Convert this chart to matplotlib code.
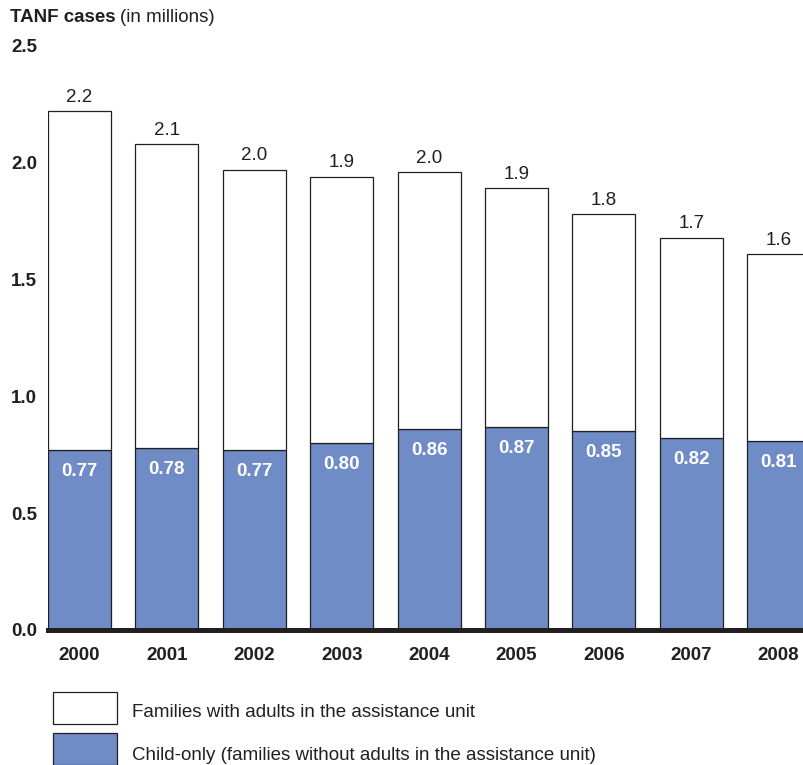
"""Stacked bar chart of TANF caseload, 2000-2008."""

import matplotlib

matplotlib.use("Agg")
import matplotlib.pyplot as plt
from matplotlib.patches import Rectangle

plt.rcParams["font.family"] = ["Liberation Sans", "DejaVu Sans"]

years = ["2000", "2001", "2002", "2003", "2004", "2005", "2006", "2007", "2008"]
total_cases = [2.22, 2.08, 1.97, 1.94, 1.96, 1.89, 1.78, 1.68, 1.61]
child_only = [0.77, 0.78, 0.77, 0.80, 0.86, 0.87, 0.85, 0.82, 0.81]
y_ticks = [0.0, 0.5, 1.0, 1.5, 2.0, 2.5]

BLUE = "#6f8cc6"
INK = "#231f20"
FS = 13.5

W, H = 804, 765
fig = plt.figure(figsize=(W / 100, H / 100), dpi=100)
ax = fig.add_axes([48 / W, 1 - 630 / H, (W - 48) / W, (630 - 46) / H])

x = list(range(len(years)))
adults = [t - c for t, c in zip(total_cases, child_only)]
width = 0.72
ax.bar(x, child_only, width=width, color=BLUE, edgecolor=INK, linewidth=0.9, zorder=2)
ax.bar(x, adults, width=width, bottom=child_only, color="white",
       edgecolor=INK, linewidth=0.9, zorder=2)

for xi, tot, ch in zip(x, total_cases, child_only):
    ax.annotate(f"{tot:.1f}", (xi, tot), xytext=(0, 10), textcoords="offset points",
                ha="center", va="center", fontsize=FS, color=INK)
    ax.annotate(f"{ch:.2f}", (xi, ch), xytext=(0, -15.5), textcoords="offset points",
                ha="center", va="center", fontsize=FS, color="white",
                fontweight="bold")

ax.axhline(0, color=INK, linewidth=3.6, zorder=3, clip_on=False)

ax.set_xlim(-width / 2, 8.29)
ax.set_ylim(0, 2.5)
ax.set_xticks(x)
ax.set_xticklabels(years, fontweight="bold", fontsize=FS, color=INK)
ax.set_yticks(y_ticks)
ax.set_yticklabels([f"{v:.1f}" for v in y_ticks], fontweight="bold",
                   fontsize=FS, color=INK)
ax.tick_params(axis="x", length=0, pad=12.5)
ax.tick_params(axis="y", length=0, pad=8)
for side in ax.spines.values():
    side.set_visible(False)

# title: bold lead-in followed by the unit in regular weight
t = fig.text(10 / W, 1 - 17 / H, "TANF cases", fontweight="bold", fontsize=FS,
             color=INK, va="center", ha="left")
fig.canvas.draw()
bb = t.get_window_extent()
fig.text((bb.x1 + 4) / W, 1 - 17 / H, "(in millions)", fontsize=FS,
         color=INK, va="center", ha="left")

# legend swatches
legend_items = [("white", "Families with adults in the assistance unit", 692, 717),
                (BLUE, "Child-only (families without adults in the assistance unit)", 733, 760)]
for color, label, top, base in legend_items:
    fig.patches.append(Rectangle((53 / W, 1 - (top + 32) / H), 64 / W, 32 / H,
                                 transform=fig.transFigure, facecolor=color,
                                 edgecolor=INK, linewidth=0.9))
    fig.text(132 / W, 1 - base / H, label, fontsize=FS, color=INK,
             va="baseline", ha="left")

fig.savefig("out.png", dpi=100)
